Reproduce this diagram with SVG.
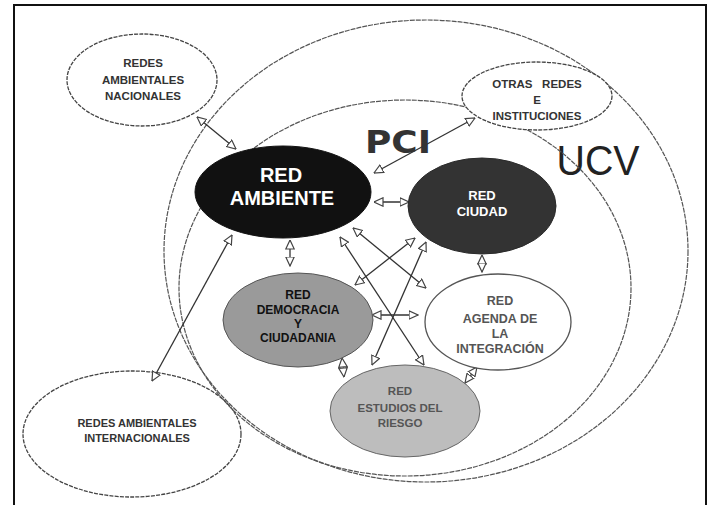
<svg xmlns="http://www.w3.org/2000/svg" width="714" height="505" viewBox="0 0 714 505">
<style>
.t{font-family:"Liberation Sans",Arial,sans-serif;font-weight:bold;text-anchor:middle}
.o{fill:#fff;stroke:#444;stroke-width:1.3;stroke-dasharray:4 1.2}
.big{fill:none;stroke:#555;stroke-width:1.2;stroke-dasharray:5 1}
.c{stroke:#333;stroke-width:1.3;fill:none;marker-start:url(#ah);marker-end:url(#ah)}
</style>
<defs>
<marker id="ah" viewBox="0 0 10 10" refX="9.5" refY="5" markerWidth="10" markerHeight="10" markerUnits="userSpaceOnUse" orient="auto-start-reverse">
<path d="M0.5,0.8 L9.5,5 L0.5,9.2 z" fill="#fff" stroke="#444" stroke-width="1.2"/>
</marker>
</defs>
<rect width="714" height="505" fill="#fff"/>
<path d="M14,505 V5 H706 V505" fill="none" stroke="#111" stroke-width="2"/>
<g id="internacionales">
<ellipse class="o" cx="132" cy="434" rx="109" ry="63"/>
<text class="t" font-size="11" fill="#333"><tspan x="137" y="427">REDES AMBIENTALES</tspan><tspan x="137" y="442">INTERNACIONALES</tspan></text>
</g>
<g id="ucv">
<ellipse class="big" cx="426" cy="251" rx="262" ry="231"/>
<text x="598" y="175" style="font-family:'Liberation Sans',Arial,sans-serif;font-size:42px;text-anchor:middle" fill="#222" textLength="83" lengthAdjust="spacingAndGlyphs">UCV</text>
</g>
<g id="pci">
<ellipse class="big" cx="405" cy="288" rx="226" ry="188"/>
<text x="398" y="153" style="font-family:'DejaVu Sans',sans-serif;font-weight:bold;font-size:32px;text-anchor:middle" fill="#333" textLength="66" lengthAdjust="spacingAndGlyphs">PCI</text>
</g>
<g id="nacionales">
<ellipse class="o" cx="142" cy="80" rx="75" ry="46"/>
<text class="t" font-size="11.5" fill="#333"><tspan x="143" y="67">REDES</tspan><tspan x="143" y="84">AMBIENTALES</tspan><tspan x="143" y="100">NACIONALES</tspan></text>
</g>
<g id="otras">
<ellipse class="o" cx="537" cy="96" rx="75" ry="34"/>
<text class="t" font-size="11.5" fill="#333" xml:space="preserve"><tspan x="537" y="88">OTRAS   REDES</tspan><tspan x="537" y="104">E</tspan><tspan x="537" y="120">INSTITUCIONES</tspan></text>
</g>
<g id="connectors">
<line class="c" x1="197" y1="117" x2="236" y2="149"/>
<line class="c" x1="475" y1="118" x2="374" y2="173"/>
<line class="c" x1="374" y1="202" x2="409" y2="202"/>
<line class="c" x1="290" y1="240" x2="290" y2="266"/>
<line class="c" x1="482" y1="255" x2="482" y2="272"/>
<line class="c" x1="372" y1="315" x2="418" y2="315"/>
<line class="c" x1="342" y1="358" x2="344" y2="377"/>
<line class="c" x1="477" y1="367" x2="465" y2="383"/>
<line class="c" x1="353" y1="228" x2="426" y2="288"/>
<line class="c" x1="340" y1="237" x2="424" y2="365"/>
<line class="c" x1="415" y1="238" x2="355" y2="285"/>
<line class="c" x1="426" y1="242" x2="372" y2="365"/>
<line class="c" x1="232" y1="235" x2="152" y2="381"/>
</g>
<g id="red-ambiente">
<ellipse cx="283" cy="192" rx="88" ry="46" fill="#111" stroke="#111"/>
<text class="t" font-size="20" fill="#fff"><tspan x="281" y="182">RED</tspan><tspan x="282" y="205">AMBIENTE</tspan></text>
</g>
<g id="red-ciudad">
<ellipse cx="482" cy="206" rx="74" ry="48" fill="#333" stroke="#2a2a2a"/>
<text class="t" font-size="13" fill="#fff"><tspan x="482" y="200">RED</tspan><tspan x="482" y="216">CIUDAD</tspan></text>
</g>
<g id="red-democracia">
<ellipse cx="298" cy="320" rx="75" ry="47" fill="#9a9a9a" stroke="#555"/>
<text class="t" font-size="12" fill="#111"><tspan x="298" y="299">RED</tspan><tspan x="298" y="314">DEMOCRACIA</tspan><tspan x="298" y="328">Y</tspan><tspan x="298" y="342">CIUDADANIA</tspan></text>
</g>
<g id="red-agenda">
<ellipse cx="498" cy="322" rx="73" ry="48" fill="#fff" stroke="#555" stroke-width="1.3"/>
<text class="t" font-size="12.5" fill="#555"><tspan x="500" y="305">RED</tspan><tspan x="500" y="323">AGENDA DE</tspan><tspan x="500" y="338">LA</tspan><tspan x="500" y="353">INTEGRACIÓN</tspan></text>
</g>
<g id="red-estudios">
<ellipse cx="405" cy="411" rx="75" ry="46" fill="#bdbdbd" stroke="#666"/>
<text class="t" font-size="11.5" fill="#555"><tspan x="400" y="395">RED</tspan><tspan x="400" y="412">ESTUDIOS DEL</tspan><tspan x="400" y="427">RIESGO</tspan></text>
</g>
</svg>
